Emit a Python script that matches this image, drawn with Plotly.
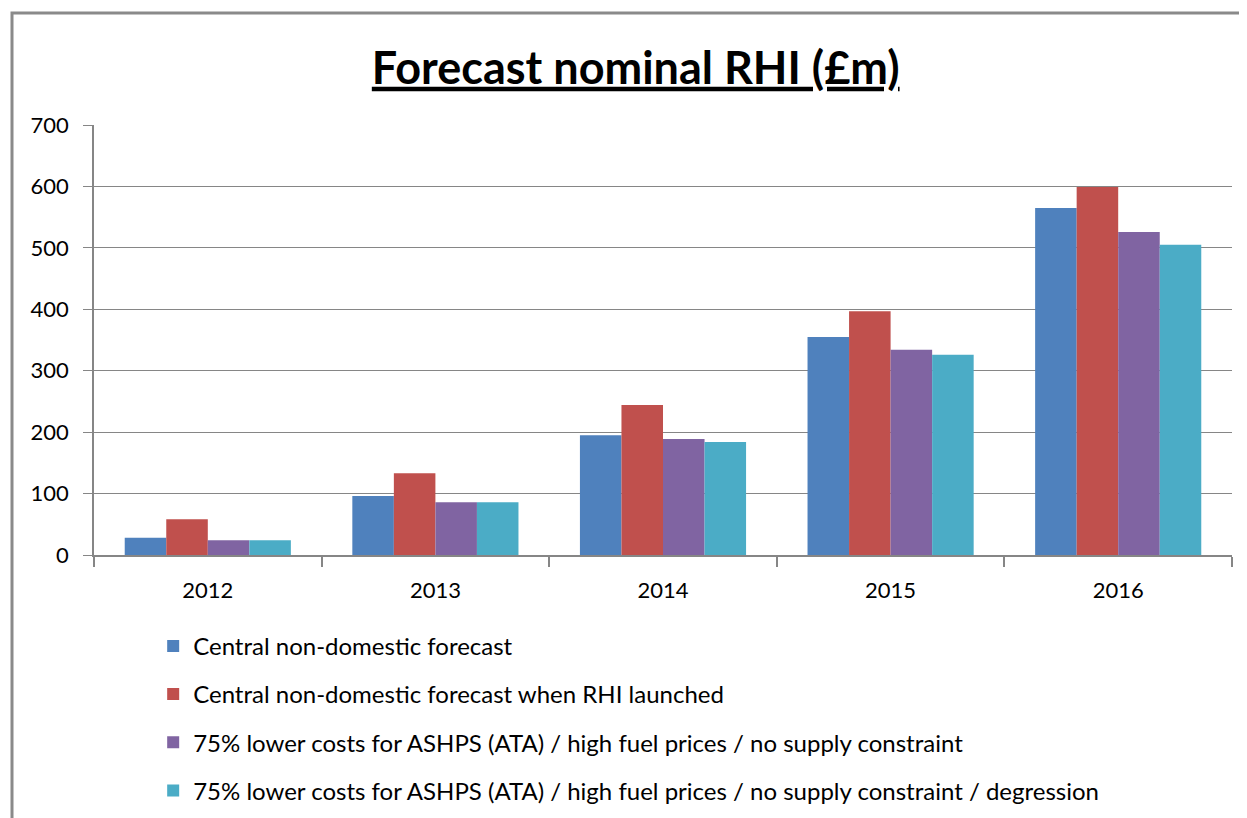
import plotly.graph_objects as go

years = ["2012", "2013", "2014", "2015", "2016"]
series_names = [
    "Central non-domestic forecast",
    "Central non-domestic forecast when RHI launched",
    "75% lower costs for ASHPS (ATA) / high fuel prices / no supply constraint",
    "75% lower costs for ASHPS (ATA) / high fuel prices / no supply constraint / degression",
]
central = [28, 96, 195, 355, 565]
central_launch = [58, 133, 244, 397, 599]
lower_costs = [24, 86, 189, 334, 526]
lower_costs_degression = [24, 86, 184, 326, 505]
colors = ["#4F81BD", "#C0504D", "#8064A2", "#4BACC6"]

all_values = [central, central_launch, lower_costs, lower_costs_degression]

FONT = "Lato, Carlito, Calibri, 'Open Sans', sans-serif"
GRAY = "#868686"

# page body has an 8px margin: figure coords = screen coords - 8
OFF = 8
PL, PT, PW, PH = 94 - OFF, 125 - OFF, 1138, 430
W, H = 1247, 818

fig = go.Figure()
for i, (name, vals) in enumerate(zip(series_names, all_values)):
    fig.add_trace(go.Bar(
        x=years, y=vals, name=name,
        marker=dict(color=colors[i], line=dict(width=0)),
        legendgroup=f"g{i}",
    ))

fig.update_layout(
    width=W, height=H,
    paper_bgcolor="white", plot_bgcolor="white",
    margin=dict(l=PL, r=W - PL - PW, t=PT, b=H - PT - PH, autoexpand=False),
    barmode="group", bargap=0.27, bargroupgap=0,
    font=dict(family=FONT, size=22, color="#000000"),
    title=dict(
        text="<b><u>Forecast nominal RHI (£m)</u></b>",
        x=0.476, xref="paper", xanchor="center",
        y=1 - (68 - OFF) / H, yref="container", yanchor="middle",
        font=dict(family=FONT, size=45, color="#000000"),
    ),
    legend=dict(
        x=0.052, xanchor="left", y=-0.16, yanchor="top",
        orientation="v", tracegroupgap=14,
        font=dict(family=FONT, size=24, color="#000000"),
        bgcolor="rgba(0,0,0,0)",
    ),
    showlegend=True,
)

fig.update_xaxes(
    type="category",
    showline=True, linecolor=GRAY, linewidth=2,
    ticks="outside", tickson="boundaries", ticklen=10, tickcolor=GRAY, tickwidth=2,
    showgrid=False,
    ticklabelstandoff=15,
    tickfont=dict(family=FONT, size=22),
)
fig.update_yaxes(
    range=[0, 700], dtick=100, tick0=0,
    showline=True, linecolor=GRAY, linewidth=1.5,
    ticks="outside", ticklen=9, tickcolor=GRAY, tickwidth=1,
    showgrid=True, gridcolor=GRAY, gridwidth=1,
    zeroline=False,
    ticklabelstandoff=10,
    tickfont=dict(family=FONT, size=22),
)

# outer chart frame (clipped by the image on right/bottom)
fig.add_shape(
    type="rect", xref="paper", yref="paper",
    x0=(12 - OFF - PL) / PW, x1=(1280 - OFF - PL) / PW,
    y0=(PT + PH - 860) / PH, y1=(PT + PH - (13 - OFF)) / PH,
    line=dict(color="#8A8A8A", width=3), fillcolor="rgba(0,0,0,0)",
    layer="below",
)

fig.write_html("out.html")
